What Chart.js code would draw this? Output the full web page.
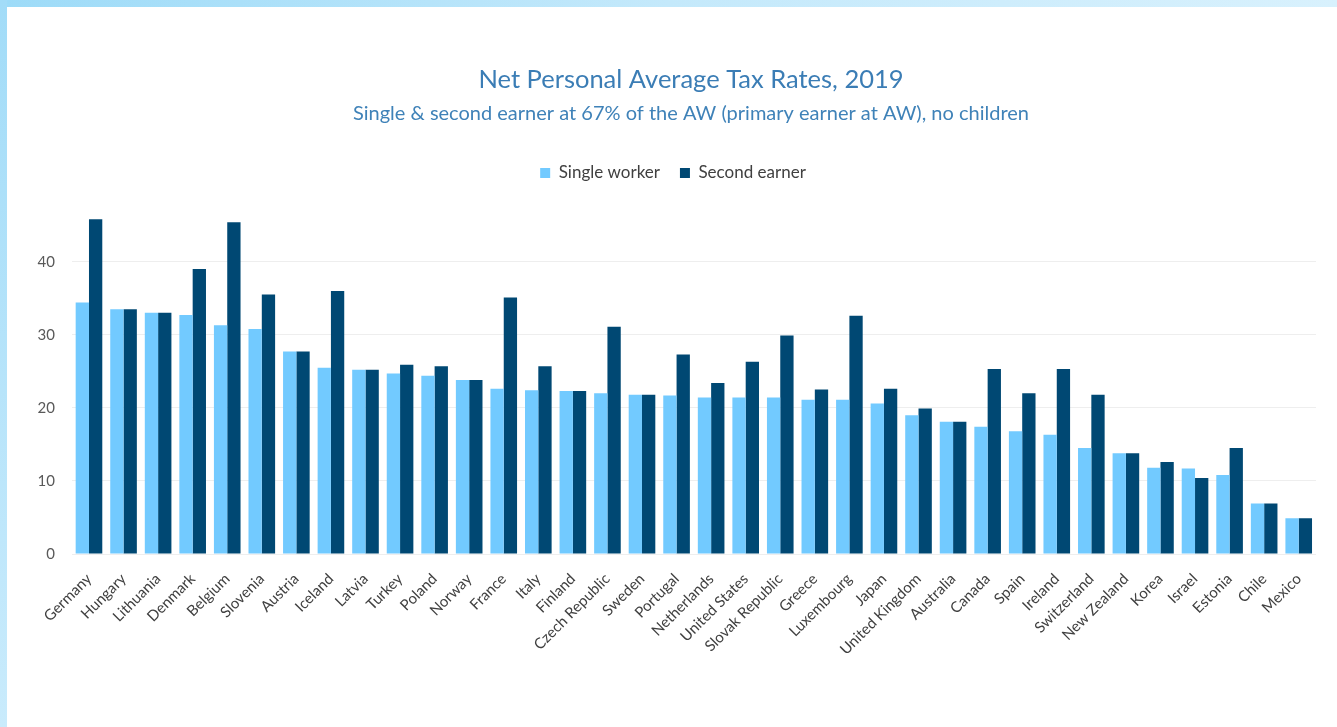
<!DOCTYPE html>
<html>
<head>
<meta charset="utf-8">
<script src="https://cdn.jsdelivr.net/npm/chart.js@4/dist/chart.umd.min.js"></script>
<style>
  html, body { margin: 0; padding: 0; background: #fff; }
  #wrap { position: absolute; left: 0; top: 0; width: 1337px; height: 727px; }
  #topBand { position: absolute; left: 0; top: 0; width: 1337px; height: 7px;
    background: linear-gradient(to right, #9ddbf8, #c4e9fb 50%, #d8f1fd); z-index: 2; }
  #leftBand { position: absolute; left: 0; top: 0; width: 7px; height: 727px;
    background: linear-gradient(to bottom, #a2dcf8, #c9ebfc); z-index: 2; }
</style>
</head>
<body>
<div id="topBand"></div>
<div id="leftBand"></div>
<div id="wrap"><canvas id="TaxChart" width="1337" height="727"></canvas></div>
<script>
// values (%)
var countries = ['Germany','Hungary','Lithuania','Denmark','Belgium','Slovenia','Austria','Iceland',
  'Latvia','Turkey','Poland','Norway','France','Italy','Finland','Czech Republic','Sweden','Portugal',
  'Netherlands','United States','Slovak Republic','Greece','Luxembourg','Japan','United Kingdom',
  'Australia','Canada','Spain','Ireland','Switzerland','New Zealand','Korea','Israel','Estonia','Chile','Mexico'];

var singleWorker = [34.4,33.5,33.0,32.7,31.3,30.8,27.7,25.5,25.2,24.7,24.4,23.8,22.6,22.4,22.3,22.0,21.8,21.7,
  21.4,21.4,21.4,21.1,21.1,20.6,19.0,18.1,17.4,16.8,16.3,14.5,13.8,11.8,11.7,10.8,6.9,4.9];

var secondEarner = [45.8,33.5,33.0,39.0,45.4,35.5,27.7,36.0,25.2,25.9,25.7,23.8,35.1,25.7,22.3,31.1,21.8,27.3,
  23.4,26.3,29.9,22.5,32.6,22.6,19.9,18.1,25.3,22.0,25.3,21.8,13.8,12.6,10.4,14.5,6.9,4.9];

var yTicks = [0,10,20,30,40];

var fontFamily = 'Lato, "Open Sans", sans-serif';

// the titles sit a little right of the legend in the reference
const shiftTitles = {
    id: 'shiftTitles',
    afterLayout: function(chart){
        chart.boxes.forEach(function(b){
            if (b.options && typeof b.options.text === 'string' && !b.legendItems){
                b.left += 18;
                b.right += 18;
            }
        });
    }
};

const ctx = document.getElementById('TaxChart').getContext('2d');
new Chart(ctx,{
    type: 'bar',
    data: {
        labels: countries,
        datasets: [
            { label: 'Single worker', data: singleWorker, backgroundColor: '#72caff' },
            { label: 'Second earner', data: secondEarner, backgroundColor: '#004873' }
        ]
    },
    plugins: [shiftTitles],
    options: {
        responsive: false,
        animation: false,
        layout: { padding: { left: 30, right: 21, top: 0, bottom: 0 } },
        datasets: { bar: { categoryPercentage: 0.77, barPercentage: 1.0 } },
        plugins: {
            title: {
                display: true,
                text: 'Net Personal Average Tax Rates, 2019',
                color: '#3b7db5',
                font: { family: fontFamily, size: 25.5, weight: 'normal' },
                padding: { top: 64.7, bottom: 2 }
            },
            subtitle: {
                display: true,
                text: 'Single & second earner at 67% of the AW (primary earner at AW), no children',
                color: '#3f82b8',
                font: { family: fontFamily, size: 20, weight: 'normal' },
                padding: { top: 4.7, bottom: 18.5 }
            },
            legend: {
                display: true,
                labels: {
                    boxWidth: 10, boxHeight: 10, padding: 20,
                    color: '#404040',
                    font: { family: fontFamily, size: 17 }
                }
            },
            tooltip: { enabled: false }
        },
        scales: {
            x: {
                grid: { display: false },
                border: { display: false },
                ticks: {
                    autoSkip: false, minRotation: 45, maxRotation: 45, padding: 8,
                    color: '#404040',
                    font: { family: fontFamily, size: 15 }
                },
                afterFit: function(scale){ scale.height = 173; }
            },
            y: {
                min: 0, max: 49.6,
                border: { display: false },
                grid: { color: '#eeeeee', drawTicks: false },
                ticks: {
                    padding: 16.7,
                    color: '#595959',
                    font: { family: fontFamily, size: 15 }
                },
                afterBuildTicks: function(scale){
                    scale.ticks = yTicks.map(function(v){ return { value: v }; });
                },
                afterFit: function(scale){ scale.width = 41.7; }
            }
        }
    }
});
</script>
</body>
</html>
